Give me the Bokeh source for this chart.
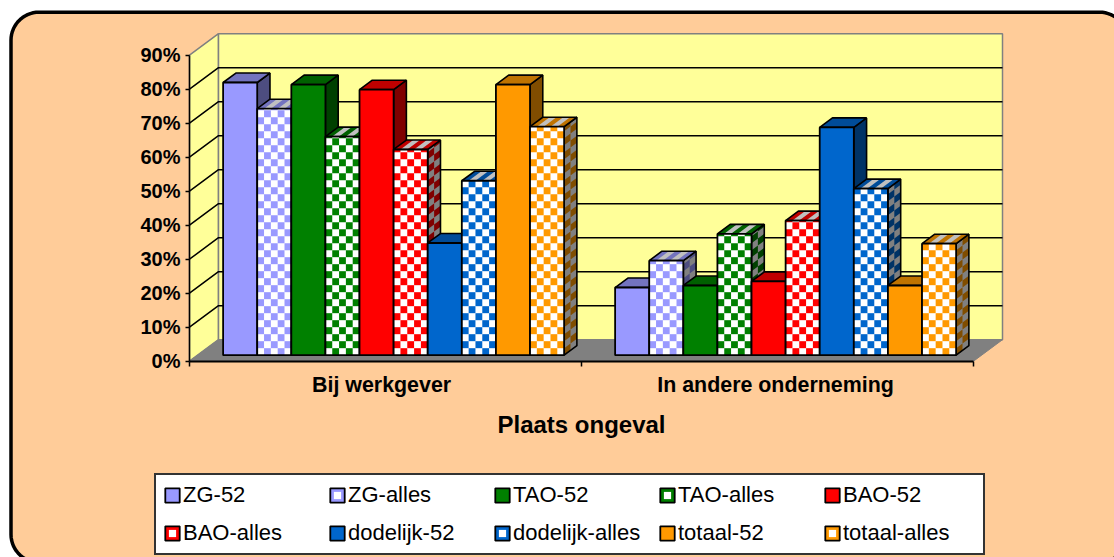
import numpy as np
from bokeh.plotting import figure
from bokeh.embed import file_html
from bokeh.resources import INLINE
from bokeh.models import ColumnDataSource, FixedTicker, Legend, LegendItem, Range1d

categories = ["Bij werkgever", "In andere onderneming"]
series = ["ZG-52", "ZG-alles", "TAO-52", "TAO-alles", "BAO-52", "BAO-alles",
          "dodelijk-52", "dodelijk-alles", "totaal-52", "totaal-alles"]
bij_werkgever = [80.2, 72.5, 79.6, 64.3, 78.1, 60.5, 33.0, 51.3, 79.6, 67.2]
andere_onderneming = [19.9, 27.8, 20.5, 35.7, 21.7, 39.6, 67.0, 49.0, 20.5, 32.8]
y_ticks = [0, 10, 20, 30, 40, 50, 60, 70, 80, 90]
# front, top, side colours for each family
front = ["#9999FF", "#9999FF", "#008000", "#008000", "#FF0000", "#FF0000",
         "#0066CC", "#0066CC", "#FF9900", "#FF9900"]
top_c = ["#7373BF", "#7373BF", "#006000", "#006000", "#BF0000", "#BF0000",
         "#004C99", "#004C99", "#BF7300", "#BF7300"]
side_c = ["#4D4D80", "#4D4D80", "#004000", "#004000", "#800000", "#800000",
          "#003366", "#003366", "#804D00", "#804D00"]

PXX = 392.0          # pixels per category
PXY = 3.4            # pixels per percent
AX0, AY0 = 189.0, 360.7   # pixel of the origin
DX, DY = 29.0 / PXX, 21.5 / PXY   # full depth of the 3D box, data units
D0, D1 = 0.28, 0.72  # bar depth span
BW = 34.1 / PXX      # bar width
CELL_X = BW / 5
CELL_Y = 7.0 / PXY
W, H = 1114, 557


def X(px):
    return (px - AX0) / PXX


def Y(py):
    return (AY0 - py) / PXY


p = figure(width=W, height=H, output_backend="svg", toolbar_location=None,
           x_range=Range1d(X(0), X(W)), y_range=Range1d(Y(H), Y(0)),
           min_border=0, min_border_left=0, min_border_right=0,
           min_border_top=0, min_border_bottom=0,
           background_fill_color="white", border_fill_color="white", outline_line_color=None)
p.grid.visible = False

# rounded chart area
L, T, R, B, r = 10.5, 11.7, 1127.0, 562.0, 28.0
t = np.linspace(0, np.pi / 2, 16)
bx = np.concatenate([L + r - r * np.cos(t), R - r + r * np.sin(t), R - r + r * np.cos(t), L + r - r * np.sin(t)])
by = np.concatenate([T + r - r * np.sin(t), T + r - r * np.cos(t), B - r + r * np.sin(t), B - r + r * np.cos(t)])
p.patch(X(bx), Y(by), fill_color="#FFCC99", line_color="black", line_width=3.5)


def pos(cx, pct, d):
    return cx + d * DX, pct + d * DY


# box walls
TOPV = y_ticks[-1]
lx, ly = zip(pos(0, 0, 0), pos(0, 0, 1), pos(0, TOPV, 1), pos(0, TOPV, 0))
p.patch(list(lx), list(ly), fill_color="#FFFF99", line_color="#808080", line_width=1.5)
bx_, by_ = zip(pos(0, 0, 1), pos(2, 0, 1), pos(2, TOPV, 1), pos(0, TOPV, 1))
p.patch(list(bx_), list(by_), fill_color="#FFFF99", line_color="#808080", line_width=1.5)
fx, fy = zip(pos(0, 0, 0), pos(2, 0, 0), pos(2, 0, 1), pos(0, 0, 1))
p.patch(list(fx), list(fy), fill_color="#808080", line_color="#808080", line_width=1)

# gridlines on left and back walls
gv = [v for v in y_ticks[1:-1]]
p.multi_line(
    [[pos(0, v, 0)[0], pos(0, v, 1)[0], pos(2, v, 1)[0]] for v in gv],
    [[pos(0, v, 0)[1], pos(0, v, 1)[1], pos(2, v, 1)[1]] for v in gv],
    line_color="black", line_width=1.5)

xs, ys, fills, lines, lw, la = [], [], [], [], [], []


def add(pts, fill, line=None, width=0.0):
    xs.append([q[0] for q in pts])
    ys.append([q[1] for q in pts])
    fills.append(fill if fill else "black")
    lines.append(line if line else "black")
    lw.append(width)
    la.append(1.0 if line else 0.0)


def draw_bar(x0, v, k):
    x1 = x0 + BW
    checked = k % 2 == 1
    # side face
    side = [pos(x1, 0, D0), pos(x1, 0, D1), pos(x1, v, D1), pos(x1, v, D0)]
    add(side, "#808080" if checked else side_c[k])
    if checked:
        for j in range(int(v / CELL_Y) + 1):
            for i in range(2):
                if (i + j) % 2 == 0:
                    a, b = j * CELL_Y, min((j + 1) * CELL_Y, v)
                    if b <= a:
                        continue
                    da = D0 + (D1 - D0) * i / 2
                    db = D0 + (D1 - D0) * (i + 1) / 2
                    add([pos(x1, a, da), pos(x1, a, db), pos(x1, b, db), pos(x1, b, da)], side_c[k])
    add(side, None, "black", 1.6)
    # top face
    topf = [pos(x0, v, D0), pos(x1, v, D0), pos(x1, v, D1), pos(x0, v, D1)]
    add(topf, "#C0C0C0" if checked else top_c[k])
    if checked:
        for i in range(0, 5, 2):
            a, b = x0 + i * CELL_X, x0 + (i + 1) * CELL_X
            add([pos(a, v, D0), pos(b, v, D0), pos(b, v, D1), pos(a, v, D1)], top_c[k])
    add(topf, None, "black", 1.6)
    # front face
    fr = [pos(x0, 0, D0), pos(x1, 0, D0), pos(x1, v, D0), pos(x0, v, D0)]
    add(fr, "white" if checked else front[k])
    if checked:
        for j in range(int(v / CELL_Y) + 1):
            for i in range(5):
                if (i + j) % 2 == 1:
                    a, b = j * CELL_Y, min((j + 1) * CELL_Y, v)
                    if b <= a:
                        continue
                    c, d = x0 + i * CELL_X, x0 + (i + 1) * CELL_X
                    add([pos(c, a, D0), pos(d, a, D0), pos(d, b, D0), pos(c, b, D0)], front[k])
    add(fr, None, "black", 1.8)


for g, vals in enumerate([bij_werkgever, andere_onderneming]):
    start = g + (1 - BW * len(vals)) / 2
    for k, v in enumerate(vals):
        draw_bar(start + k * BW, v, k)

src = ColumnDataSource(dict(xs=xs, ys=ys, fill=fills, line=lines, lw=lw, la=la,
                            fa=[0.0 if a else 1.0 for a in la]))
p.patches("xs", "ys", source=src, fill_color="fill", fill_alpha="fa",
          line_color="line", line_width="lw", line_alpha="la")

# axes
xa = p.xaxis[0]
xa.fixed_location = 0
xa.ticker = FixedTicker(ticks=[0.49, 1.495], minor_ticks=[0, 1, 2])
xa.major_label_overrides = {0.49: categories[0], 1.495: categories[1]}
xa.bounds = (0, 2)
xa.major_tick_in = 0
xa.major_tick_out = 0
xa.minor_tick_in = 0
xa.minor_tick_out = 5
xa.minor_tick_line_color = "black"
xa.minor_tick_line_width = 1.5
xa.axis_line_color = "black"
xa.axis_line_width = 2
xa.major_label_standoff = 7
xa.major_label_text_font = "Liberation Sans"
xa.major_label_text_font_style = "bold"
xa.major_label_text_font_size = "21.4px"
xa.major_label_text_color = "black"
xa.axis_label = "Plaats ongeval"
xa.axis_label_text_font = "Liberation Sans"
xa.axis_label_text_font_style = "bold"
xa.axis_label_text_font_size = "24px"
xa.axis_label_text_color = "black"
xa.axis_label_standoff = 10

ya = p.yaxis[0]
ya.fixed_location = 0
ya.ticker = FixedTicker(ticks=y_ticks)
ya.major_label_overrides = {v: f"{v}%" for v in y_ticks}
ya.bounds = (0, 90)
ya.major_tick_in = 0
ya.major_tick_out = 4
ya.minor_tick_line_color = None
ya.major_tick_line_color = "black"
ya.major_tick_line_width = 1.5
ya.axis_line_color = "black"
ya.axis_line_width = 1.5
ya.major_label_standoff = 5
ya.major_label_text_font = "Liberation Sans"
ya.major_label_text_font_style = "bold"
ya.major_label_text_font_size = "20px"
ya.major_label_text_color = "black"

# legend
items = []
nan = float("nan")
for k, name in enumerate(series):
    rs = [p.quad(left=[nan], right=[nan], top=[nan], bottom=[nan], fill_color=front[k],
                 line_color="black", line_width=1.8)]
    if k % 2 == 1:
        rs.append(p.scatter(x=[nan], y=[nan], marker="square", size=8, fill_color="white", line_color=None))
    items.append(LegendItem(label=name, renderers=rs))
legend = Legend(items=items, ncols=5, orientation="horizontal", location=(154, 2), padding=7, spacing=12,
                glyph_width=18, glyph_height=18, label_standoff=2, label_width=133, label_height=20,
                label_text_font="Liberation Sans", label_text_font_size="22px", label_text_color="black",
                border_line_color="#333333", border_line_width=2, border_line_alpha=1.0,
                background_fill_color="white", background_fill_alpha=1.0,
                margin=0)
p.add_layout(legend)

open("out.html", "w").write(file_html(p, INLINE))
